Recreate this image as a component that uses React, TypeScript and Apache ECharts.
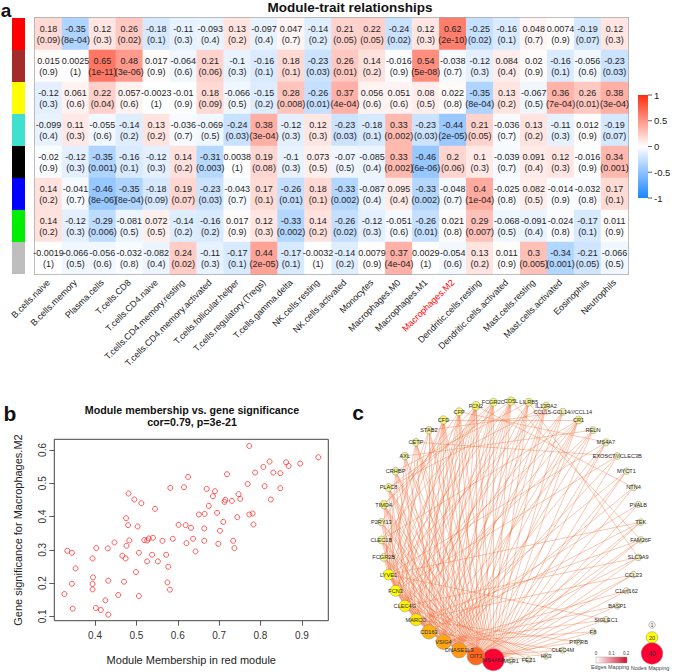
import React, { useEffect, useRef } from 'react';
import * as echarts from 'echarts';

// ---------- Panel a: module-trait heatmap ----------
const TRAITS = ['B.cells.naive', 'B.cells.memory', 'Plasma.cells', 'T.cells.CD8', 'T.cells.CD4.naive',
  'T.cells.CD4.memory.resting', 'T.cells.CD4.memory.activated', 'T.cells.follicular.helper',
  'T.cells.regulatory.(Tregs)', 'T.cells.gamma.delta', 'NK.cells.resting', 'NK.cells.activated',
  'Monocytes', 'Macrophages.M0', 'Macrophages.M1', 'Macrophages.M2', 'Dendritic.cells.resting',
  'Dendritic.cells.activated', 'Mast.cells.resting', 'Mast.cells.activated', 'Eosinophils', 'Neutrophils'];
const MODULES = ['red', 'brown', 'yellow', 'turquoise', 'black', 'blue', 'green', 'grey'];
const MODULE_COLORS = ['#FF0000', '#A52A2A', '#FFFF00', '#40E0D0', '#000000', '#0000FF', '#00EE00', '#BEBEBE'];

const COR_RED = [0.18, -0.35, 0.12, 0.26, -0.18, -0.11, -0.093, 0.13, -0.097, 0.047, -0.14, 0.21, 0.22, -0.24, 0.12, 0.62, -0.25, -0.16, 0.048, 0.0074, -0.19, 0.12];
const P_RED = ['0.09', '8e-04', '0.3', '0.02', '0.1', '0.3', '0.4', '0.2', '0.4', '0.7', '0.2', '0.05', '0.05', '0.02', '0.3', '2e-10', '0.02', '0.1', '0.7', '0.9', '0.07', '0.3'];
const COR_BROWN = [0.015, 0.0025, 0.65, 0.48, 0.017, -0.064, 0.21, -0.1, -0.16, 0.18, -0.23, 0.26, 0.14, -0.016, 0.54, -0.038, -0.12, 0.084, 0.02, -0.16, -0.056, -0.23];
const P_BROWN = ['0.9', '1', '1e-11', '3e-06', '0.9', '0.6', '0.06', '0.3', '0.1', '0.1', '0.03', '0.01', '0.2', '0.9', '5e-08', '0.7', '0.3', '0.4', '0.9', '0.1', '0.6', '0.03'];
const COR_YELLOW = [-0.12, 0.061, 0.22, 0.057, -0.0023, -0.01, 0.18, -0.066, -0.15, 0.28, -0.26, 0.37, 0.056, 0.051, 0.08, 0.022, -0.35, 0.13, -0.067, 0.36, 0.26, 0.38];
const P_YELLOW = ['0.3', '0.6', '0.04', '0.6', '1', '0.9', '0.09', '0.5', '0.2', '0.008', '0.01', '4e-04', '0.6', '0.6', '0.5', '0.8', '8e-04', '0.2', '0.5', '7e-04', '0.01', '3e-04'];
const COR_TURQUOISE = [-0.099, 0.11, -0.055, -0.14, 0.13, -0.036, -0.069, -0.24, 0.38, -0.12, 0.12, -0.23, -0.18, 0.33, -0.23, -0.44, 0.21, -0.036, 0.13, -0.11, 0.012, -0.19];
const P_TURQUOISE = ['0.4', '0.3', '0.6', '0.2', '0.2', '0.7', '0.5', '0.03', '3e-04', '0.3', '0.3', '0.03', '0.1', '0.002', '0.03', '2e-05', '0.05', '0.7', '0.2', '0.3', '0.9', '0.07'];
const COR_BLACK = [-0.02, -0.12, -0.35, -0.16, -0.12, 0.14, -0.31, 0.0038, 0.19, -0.1, 0.073, -0.07, -0.085, 0.33, -0.46, 0.2, 0.1, -0.039, 0.091, 0.12, -0.016, 0.34];
const P_BLACK = ['0.9', '0.3', '0.001', '0.1', '0.3', '0.2', '0.003', '1', '0.08', '0.3', '0.5', '0.5', '0.4', '0.002', '6e-06', '0.06', '0.3', '0.7', '0.4', '0.3', '0.9', '0.001'];
const COR_BLUE = [0.14, -0.041, -0.46, -0.35, -0.18, 0.19, -0.23, -0.043, 0.17, -0.26, 0.18, -0.33, -0.087, 0.095, -0.33, -0.048, 0.4, -0.025, 0.082, -0.014, -0.032, 0.17];
const P_BLUE = ['0.2', '0.7', '8e-06', '8e-04', '0.09', '0.07', '0.03', '0.7', '0.1', '0.01', '0.1', '0.002', '0.4', '0.4', '0.002', '0.7', '1e-04', '0.8', '0.5', '0.9', '0.8', '0.1'];
const COR_GREEN = [0.14, -0.12, -0.29, -0.081, 0.072, -0.14, -0.16, 0.017, 0.12, -0.33, 0.14, -0.26, -0.12, -0.051, -0.26, 0.021, 0.29, -0.068, -0.091, -0.024, -0.17, 0.011];
const P_GREEN = ['0.2', '0.3', '0.006', '0.5', '0.5', '0.2', '0.2', '0.9', '0.3', '0.002', '0.2', '0.02', '0.3', '0.6', '0.01', '0.8', '0.007', '0.5', '0.4', '0.8', '0.1', '0.9'];
const COR_GREY = [-0.0019, -0.066, -0.056, -0.032, -0.082, 0.24, -0.11, -0.17, 0.44, -0.17, -0.0032, -0.14, 0.0079, 0.37, 0.0029, -0.054, 0.13, 0.011, 0.3, -0.34, -0.21, -0.066];
const P_GREY = ['1', '0.5', '0.6', '0.8', '0.4', '0.02', '0.3', '0.1', '2e-05', '0.1', '1', '0.2', '0.9', '4e-04', '1', '0.6', '0.2', '0.9', '0.005', '0.001', '0.05', '0.5'];

const COR = [COR_RED, COR_BROWN, COR_YELLOW, COR_TURQUOISE, COR_BLACK, COR_BLUE, COR_GREEN, COR_GREY];
const PVAL = [P_RED, P_BROWN, P_YELLOW, P_TURQUOISE, P_BLACK, P_BLUE, P_GREEN, P_GREY];
const COLORBAR_TICKS = ['1', '0.5', '0', '-0.5', '-1'];

// ---------- Panel b: scatter ----------
const MM = [0.773, 0.940, 0.822, 0.862, 0.868, 0.896, 0.807, 0.787, 0.831, 0.848, 0.719, 0.625, 0.769, 0.615, 0.582,
  0.810, 0.848, 0.670, 0.690, 0.481, 0.747, 0.685, 0.495, 0.751, 0.825, 0.512, 0.715, 0.713, 0.731, 0.675, 0.545,
  0.326, 0.333, 0.344, 0.344, 0.346, 0.353, 0.394, 0.395, 0.394, 0.394, 0.403, 0.402, 0.414, 0.425, 0.431, 0.432,
  0.432, 0.447, 0.456, 0.466, 0.470, 0.474, 0.476, 0.475, 0.480, 0.483, 0.499, 0.503, 0.506, 0.506, 0.519, 0.526,
  0.526, 0.530, 0.540, 0.538, 0.552, 0.563, 0.572, 0.575, 0.577, 0.581, 0.588, 0.602, 0.619, 0.621, 0.632, 0.637,
  0.643, 0.651, 0.665, 0.664, 0.664, 0.695, 0.698, 0.702, 0.710, 0.734, 0.737, 0.744, 0.773, 0.781, 0.783];
const GS = [0.612, 0.578, 0.565, 0.563, 0.552, 0.559, 0.549, 0.532, 0.532, 0.530, 0.527, 0.519, 0.498, 0.488, 0.486,
  0.491, 0.485, 0.483, 0.476, 0.469, 0.467, 0.461, 0.451, 0.453, 0.451, 0.440, 0.450, 0.444, 0.447, 0.432, 0.423,
  0.167, 0.297, 0.291, 0.198, 0.123, 0.244, 0.274, 0.217, 0.197, 0.181, 0.305, 0.125, 0.119, 0.148, 0.304, 0.207,
  0.105, 0.322, 0.164, 0.282, 0.204, 0.274, 0.312, 0.395, 0.374, 0.328, 0.233, 0.370, 0.291, 0.161, 0.329, 0.265,
  0.328, 0.334, 0.336, 0.285, 0.265, 0.327, 0.285, 0.202, 0.249, 0.180, 0.333, 0.375, 0.374, 0.320, 0.366, 0.333,
  0.295, 0.406, 0.408, 0.364, 0.327, 0.411, 0.318, 0.357, 0.384, 0.327, 0.305, 0.398, 0.406, 0.409, 0.376];
const X_TICKS = [0.4, 0.5, 0.6, 0.7, 0.8, 0.9];
const Y_TICKS = [0.1, 0.2, 0.3, 0.4, 0.5, 0.6];

// ---------- Panel c: network ----------
const NODE_NAMES = ['CD5L', 'LILRB5', 'IL13RA2', 'CCL15-CCL14///CCL14', 'CR1', 'RELN', 'MS4A7', 'EXOSC7///CLEC3B',
  'MYCT1', 'NTN4', 'PVALB', 'TEK', 'FAM26F', 'SLC9A9', 'CCL23', 'C1orf162', 'BASP1', 'SIGLEC1', 'F8', 'PTPRB',
  'CLEC4M', 'HK3', 'FEZ1', 'MSR1', 'MS4A6A', 'OIT3', 'DNASE1L3', 'VSIG4', 'CD163', 'MARCO', 'CLEC4G', 'FCN3',
  'LYVE1', 'FCGR2B', 'CLEC1B', 'P2RY13', 'TIMD4', 'PLAC8', 'CRHBP', 'AXL', 'CETP', 'STAB2', 'CFD', 'CFP', 'FCN2', 'FCGR2C'];
const CCL = 'CCL15-CCL14///CCL14';
const EXO = 'EXOSC7///CLEC3B';
const HUB_LINKS: [string, string[]][] = [
  ['MS4A6A', ['OIT3', 'DNASE1L3', 'VSIG4', 'CD163', 'MARCO', 'CLEC4G', 'FCN3', 'LYVE1', 'FCGR2B', 'CLEC1B', 'P2RY13', 'TIMD4',
    'PLAC8', 'CRHBP', 'AXL', 'CETP', 'STAB2', 'CFD', 'CFP', 'FCN2', 'FCGR2C', 'CD5L', 'LILRB5', 'IL13RA2', CCL, 'CR1', 'RELN',
    'MS4A7', EXO, 'MYCT1', 'NTN4', 'PVALB', 'TEK', 'FAM26F', 'SLC9A9', 'CCL23', 'C1orf162', 'BASP1', 'SIGLEC1', 'F8']],
  ['OIT3', ['DNASE1L3', 'VSIG4', 'CD163', 'MARCO', 'CLEC4G', 'FCN3', 'LYVE1', 'FCGR2B', 'CLEC1B', 'P2RY13', 'TIMD4', 'PLAC8',
    'CRHBP', 'AXL', 'CETP', 'STAB2', 'CFD', 'CFP', 'FCN2', 'FCGR2C', 'CD5L', 'LILRB5', 'IL13RA2', 'CR1', 'MS4A7', 'MYCT1', 'TEK',
    'FAM26F', 'CCL23', 'PTPRB', 'CLEC4M']],
  ['DNASE1L3', ['VSIG4', 'CD163', 'MARCO', 'CLEC4G', 'FCN3', 'LYVE1', 'FCGR2B', 'CLEC1B', 'TIMD4', 'PLAC8', 'CRHBP', 'CETP',
    'CFD', 'CFP', 'FCN2', 'FCGR2C', 'CD5L', 'LILRB5', 'IL13RA2', CCL, 'CR1', 'RELN', 'SLC9A9', 'HK3', 'FEZ1', 'MSR1']],
  ['VSIG4', ['CD163', 'MARCO', 'CLEC4G', 'FCN3', 'LYVE1', 'P2RY13', 'TIMD4', 'PLAC8', 'AXL', 'STAB2', 'CFD', 'CFP', 'FCN2',
    'FCGR2C', 'CD5L', 'LILRB5', 'CR1', 'MS4A7', EXO, 'NTN4', 'C1orf162', 'BASP1', 'SIGLEC1', 'F8']],
  ['CD163', ['MARCO', 'CLEC4G', 'FCN3', 'LYVE1', 'FCGR2B', 'CLEC1B', 'TIMD4', 'CRHBP', 'CETP', 'STAB2', 'CFD', 'CFP', 'FCN2',
    'FCGR2C', 'CD5L', 'IL13RA2', CCL, 'RELN', 'MYCT1', 'PVALB', 'TEK', 'CLEC4M']],
  ['MARCO', ['CLEC4G', 'FCN3', 'LYVE1', 'CLEC1B', 'P2RY13', 'PLAC8', 'AXL', 'CFD', 'CFP', 'FCN2', 'CD5L', 'LILRB5', 'CR1',
    'FAM26F', 'CCL23', 'PTPRB', 'MSR1']],
  ['CLEC4G', ['FCN3', 'LYVE1', 'FCGR2B', 'TIMD4', 'CRHBP', 'CETP', 'CFD', 'FCN2', 'FCGR2C', 'CD5L', 'IL13RA2', CCL, 'RELN',
    'SLC9A9', 'HK3']],
  ['FCN3', ['LYVE1', 'CLEC1B', 'P2RY13', 'PLAC8', 'AXL', 'STAB2', 'CFP', 'FCN2', 'FCGR2C', 'LILRB5', 'CR1', EXO, 'FEZ1']],
  ['LYVE1', ['FCGR2B', 'TIMD4', 'CRHBP', 'CETP', 'CFD', 'FCN2', 'CD5L', 'IL13RA2', 'MS4A7', 'TEK', 'SIGLEC1']],
];
const EXTRA_LINKS: [string, string][] = [
  ['CFD', 'CR1'], ['CFP', 'MS4A7'], ['FCN2', 'NTN4'], ['STAB2', CCL], ['CETP', EXO], ['FCGR2C', 'TIMD4'],
  ['CD5L', 'PLAC8'], ['AXL', 'RELN'], ['CRHBP', 'LILRB5'], ['PLAC8', 'IL13RA2'], ['TIMD4', 'FCN2'], ['FCGR2B', 'CFD'],
  ['CLEC1B', 'FCGR2C'], ['P2RY13', 'CFP'], ['CR1', 'CLEC1B'], ['STAB2', 'FCGR2B'], ['LILRB5', 'SLC9A9'], ['CD5L', 'FAM26F'],
];

const FF = 'Liberation Sans, Arial, Helvetica, sans-serif';
const HEAT_COLORS = ['#1B85FF', '#FFFFFF', '#FF2D10'];

function buildOption() {
  const heatData: any[] = [];
  COR.forEach((row, ri) => row.forEach((v, ci) => heatData.push([ci, ri, v])));

  const links: { source: string; target: string }[] = [];
  HUB_LINKS.forEach(([hub, targets]) => targets.forEach((t) => links.push({ source: hub, target: t })));
  EXTRA_LINKS.forEach(([s, t]) => links.push({ source: s, target: t }));
  const degree: Record<string, number> = {};
  NODE_NAMES.forEach((n) => (degree[n] = 0));
  links.forEach((l) => { degree[l.source]++; degree[l.target]++; });
  const N = NODE_NAMES.length;
  const R = 130;
  const nodes = NODE_NAMES.map((name, i) => {
    const a = -Math.PI / 2 + (i * 2 * Math.PI) / N;
    const d = Math.max(1, degree[name]);
    const size = d <= 20 ? 6 + ((d - 1) * 5) / 19 : 11 + ((d - 20) * 11) / 20;
    const color = d <= 20
      ? echarts.color.lerp((d - 1) / 19, ['#EEEED2', '#FFFF00'])
      : echarts.color.lerp((d - 20) / 20, ['#FFFF00', '#FF0033']);
    return {
      name, value: d, x: R * Math.cos(a), y: R * Math.sin(a), symbolSize: size,
      itemStyle: { color, borderColor: '#8a8a8a', borderWidth: 0.5 },
    };
  });

  const txt = (text: string, x: number, y: number, fontSize: number, extra: any = {}) => ({
    type: 'text', x, y, silent: true,
    style: { text, fontSize, fontFamily: FF, fill: '#111', textAlign: 'center', textVerticalAlign: 'middle', ...extra },
  });

  const graphic: any[] = [
    txt('a', 6, 1, 19, { fontWeight: 'bold', textVerticalAlign: 'top' }),
    txt('b', 10, 413, 21, { fontWeight: 'bold' }),
    txt('c', 358, 412, 21, { fontWeight: 'bold' }),
    txt('Module-trait relationships', 350, 7, 13.5, { fontWeight: 'bold' }),
    txt('Module membership vs. gene significance', 192, 409.5, 10.7, { fontWeight: 'bold' }),
    txt('cor=0.79, p=3e-21', 192, 421.5, 10.7, { fontWeight: 'bold' }),
    {
      type: 'rect', silent: true, shape: { x: 638, y: 95, width: 10, height: 103 },
      style: {
        fill: { type: 'linear', x: 0, y: 0, x2: 0, y2: 1, colorStops: [
          { offset: 0, color: HEAT_COLORS[2] }, { offset: 0.5, color: HEAT_COLORS[1] }, { offset: 1, color: HEAT_COLORS[0] }] },
      },
    },
    ...COLORBAR_TICKS.flatMap((t, i) => {
      const y = 95 + i * 25.75;
      return [
        { type: 'line', silent: true, shape: { x1: 648, y1: y, x2: 652, y2: y }, style: { stroke: '#333', lineWidth: 0.8 } },
        txt(t, 654, y, 9.5, { textAlign: 'left', fill: '#222' }),
      ];
    }),
    {
      type: 'rect', silent: true, shape: { x: 596, y: 657, width: 31, height: 6 },
      style: {
        stroke: '#999', lineWidth: 0.4,
        fill: { type: 'linear', x: 0, y: 0, x2: 1, y2: 0, colorStops: [{ offset: 0, color: '#FFFFFF' }, { offset: 1, color: '#D0102A' }] },
      },
    },
    txt('0', 596, 653.5, 4.5, { fill: '#444' }),
    txt('0.1', 611.5, 653.5, 4.5, { fill: '#444' }),
    txt('0.2', 626, 653.5, 4.5, { fill: '#444' }),
    txt('Edges Mapping', 610, 667, 5.5, { fill: '#444' }),
    { type: 'circle', silent: true, shape: { cx: 652, cy: 625, r: 3.3 }, style: { fill: '#F3F3E4', stroke: '#888', lineWidth: 0.5 } },
    txt('1', 652, 625.3, 4.5, { fill: '#333' }),
    { type: 'circle', silent: true, shape: { cx: 652, cy: 637.5, r: 5.8 }, style: { fill: '#FFFF00', stroke: '#888', lineWidth: 0.5 } },
    txt('20', 652, 637.8, 5.5, { fill: '#333' }),
    { type: 'circle', silent: true, shape: { cx: 652, cy: 653.5, r: 10.8 }, style: { fill: '#FF0033', stroke: '#888', lineWidth: 0.5 } },
    txt('40', 652, 653.8, 6.5, { fill: '#333' }),
    txt('Nodes Mapping', 650, 667.5, 5.5, { fill: '#444' }),
  ];

  return {
    animation: false,
    backgroundColor: '#fff',
    textStyle: { fontFamily: FF },
    grid: [
      { left: 35, top: 18, width: 593, height: 256, show: true, borderColor: '#A8A8A8', borderWidth: 2, backgroundColor: 'transparent', containLabel: false, outerBoundsMode: 'none' },
      { left: 12, top: 18, width: 13, height: 256, containLabel: false, outerBoundsMode: 'none' },
      { left: 54.3, top: 439.3, width: 274, height: 181.4, show: true, borderColor: '#444', borderWidth: 1, backgroundColor: 'transparent', containLabel: false, outerBoundsMode: 'none' },
    ],
    xAxis: [
      {
        type: 'category', gridIndex: 0, data: TRAITS, axisLine: { show: false }, axisTick: { show: false }, splitLine: { show: false },
        axisLabel: {
          rotate: 45, interval: 0, fontSize: 9, margin: 7, fontFamily: FF,
          color: (v: string) => (v === 'Macrophages.M2' ? '#FF0000' : '#1a1a1a'),
        },
      },
      { type: 'value', gridIndex: 1, min: 0, max: 1, show: false },
      {
        type: 'value', gridIndex: 2, min: 0.3015, max: 0.964, splitLine: { show: false },
        axisLine: { show: false },
        axisTick: { show: true, length: 5, customValues: X_TICKS, lineStyle: { color: '#333', width: 0.8 } },
        axisLabel: { customValues: X_TICKS, fontSize: 10, color: '#333', margin: 10, fontFamily: FF },
        name: 'Module Membership in red module', nameLocation: 'middle', nameGap: 34,
        nameTextStyle: { fontSize: 11, color: '#222', fontFamily: FF },
      },
    ],
    yAxis: [
      { type: 'category', gridIndex: 0, data: MODULES, inverse: true, show: false },
      { type: 'category', gridIndex: 1, data: MODULES, inverse: true, show: false },
      {
        type: 'value', gridIndex: 2, min: 0.0868, max: 0.632, splitLine: { show: false },
        axisLine: { show: false },
        axisTick: { show: true, length: 5, customValues: Y_TICKS, lineStyle: { color: '#333', width: 0.8 } },
        axisLabel: { customValues: Y_TICKS, fontSize: 10, color: '#333', margin: 7, rotate: 90, fontFamily: FF },
        name: 'Gene significance for Macrophages.M2', nameLocation: 'middle', nameGap: 31,
        nameTextStyle: { fontSize: 11, color: '#222', fontFamily: FF },
      },
    ],
    visualMap: [{
      type: 'continuous', min: -1, max: 1, seriesIndex: 0, dimension: 2, show: false,
      inRange: { color: HEAT_COLORS },
    }],
    series: [
      {
        type: 'heatmap', xAxisIndex: 0, yAxisIndex: 0, data: heatData, silent: true,
        itemStyle: { borderWidth: 0 },
        label: {
          show: true, fontSize: 9, lineHeight: 11, color: '#1e1e1e', fontFamily: FF,
          formatter: (p: any) => `${COR[p.data[1]][p.data[0]]}\n(${PVAL[p.data[1]][p.data[0]]})`,
        },
        emphasis: { disabled: true },
      },
      {
        type: 'bar', xAxisIndex: 1, yAxisIndex: 1, silent: true, barCategoryGap: '0%',
        data: MODULE_COLORS.map((c) => ({ value: 1, itemStyle: { color: c } })),
      },
      {
        type: 'scatter', xAxisIndex: 2, yAxisIndex: 2, silent: true, symbol: 'circle', symbolSize: 5,
        itemStyle: { color: 'transparent', borderColor: '#FF1A1A', borderWidth: 0.9 },
        data: MM.map((m, i) => [m, GS[i]]),
      },
      {
        type: 'graph', layout: 'none', silent: true, roam: false,
        left: 381.3, top: 401, width: 259.4, height: 260,
        data: nodes, links,
        lineStyle: { color: '#F26B38', width: 0.8, opacity: 0.48, curveness: 0 },
        label: { show: true, position: 'inside', fontSize: 5.6, color: '#2a2a2a', fontFamily: FF },
        emphasis: { disabled: true },
      },
    ],
    graphic,
  };
}

export default function App() {
  const ref = useRef<HTMLDivElement>(null);
  useEffect(() => {
    document.body.style.margin = '0';
    const chart = echarts.init(ref.current!, null, { renderer: 'svg' });
    chart.setOption(buildOption() as any);
    return () => chart.dispose();
  }, []);
  return <div ref={ref} style={{ position: 'absolute', left: 0, top: 0, width: 674, height: 672 }} />;
}
